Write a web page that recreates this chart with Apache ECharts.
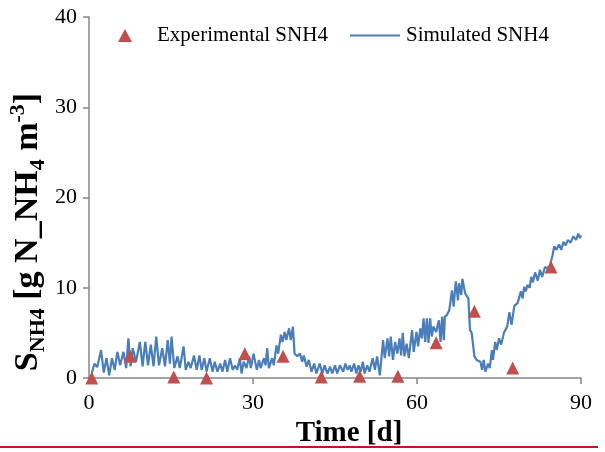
<!DOCTYPE html>
<html>
<head>
<meta charset="utf-8">
<script src="https://cdn.jsdelivr.net/npm/echarts@6/dist/echarts.min.js"></script>
<style>
  html, body { margin: 0; padding: 0; background: #ffffff; }
  #chart { width: 605px; height: 452px; }
</style>
</head>
<body>
<div id="chart"></div>
<script>
// Measured ammonium (sampling day, g N_NH4 m-3)
var experimentalDays = [0.5, 7.5, 15.5, 21.5, 28.5, 35.5, 42.5, 49.5, 56.5, 63.5, 70.5, 77.5, 84.5];
var experimentalSNH4 = [0.0, 2.4, 0.1, 0.0, 2.7, 2.4, 0.1, 0.2, 0.2, 3.9, 7.4, 1.1, 12.3];

// Model output (day, g N_NH4 m-3)
var simulatedSNH4 = [
  [0.5,0.5],[1.0,1.6],[1.5,1.2],[2.2,3.1],[2.7,0.6],[3.2,2.2],[3.7,0.3],[4.2,2.2],[4.7,0.9],[5.2,2.9],
  [5.7,1.4],[6.3,2.9],[6.8,1.1],[7.2,4.4],[7.6,1.3],[8.0,3.3],[8.6,1.8],[9.3,4.0],[9.8,1.3],[10.3,4.0],
  [10.8,1.4],[11.3,3.7],[11.8,1.3],[12.3,4.6],[12.8,1.4],[13.4,3.3],[13.9,1.3],[14.4,4.2],[14.8,1.6],[15.1,4.6],
  [15.6,1.1],[16.2,2.4],[16.6,1.1],[17.3,3.5],[17.7,0.9],[18.2,1.8],[18.6,1.1],[19.2,2.5],[19.7,0.9],[20.2,2.5],
  [20.6,0.9],[21.1,2.2],[21.5,0.7],[22.1,2.2],[22.6,0.7],[23.0,1.8],[23.5,0.7],[24.0,1.6],[24.4,0.7],[24.9,2.0],
  [25.3,0.7],[25.8,2.2],[26.3,0.9],[26.7,1.4],[27.1,0.9],[27.6,2.2],[27.9,0.5],[28.3,1.8],[28.8,1.1],[29.3,2.4],
  [29.6,1.1],[30.1,2.7],[30.7,0.9],[31.1,2.0],[31.4,1.1],[32.0,2.2],[32.3,1.4],[32.6,3.3],[32.9,1.1],[33.5,2.2],
  [33.8,1.4],[34.3,3.6],[34.6,2.7],[35.1,4.8],[35.4,4.0],[35.8,5.1],[36.1,4.2],[36.6,5.5],[36.9,4.2],[37.3,5.7],
  [37.6,2.7],[38.1,2.4],[38.6,2.7],[39.0,1.8],[39.3,2.5],[39.8,1.25],[40.2,2.0],[40.7,0.7],[41.2,1.6],[41.6,0.5],
  [42.2,1.6],[42.7,0.5],[43.1,1.4],[43.6,0.5],[44.1,1.25],[44.5,0.5],[45.0,1.4],[45.4,0.5],[45.9,1.4],[46.5,0.7],
  [46.9,1.6],[47.3,0.9],[47.7,1.4],[48.0,0.7],[48.5,1.6],[48.9,0.5],[49.3,1.4],[49.7,0.7],[50.1,1.8],[50.4,0.5],
  [50.9,1.4],[51.3,0.7],[51.9,2.2],[52.3,0.9],[52.7,2.4],[53.2,0.3],[53.8,4.2],[54.1,2.2],[54.6,4.4],[54.9,2.4],
  [55.2,4.6],[55.6,2.0],[56.0,4.0],[56.4,2.7],[56.8,4.4],[57.1,2.5],[57.4,5.0],[57.7,2.4],[58.1,3.8],[58.5,2.2],
  [59.1,5.3],[59.4,2.9],[59.9,5.1],[60.2,3.5],[60.6,5.5],[60.9,4.4],[61.2,6.6],[61.5,4.0],[61.8,6.6],[62.1,3.9],
  [62.4,6.6],[62.7,4.6],[63.0,5.7],[63.5,5.1],[64.0,6.4],[64.3,4.0],[64.6,6.8],[64.9,4.2],[65.1,6.8],[65.5,7.0],
  [65.9,7.5],[66.4,9.7],[66.7,7.9],[67.1,10.7],[67.5,8.6],[67.7,10.5],[68.1,9.2],[68.3,11.0],[68.8,9.4],[69.0,9.6],
  [69.4,8.8],[69.7,5.3],[70.0,5.0],[70.5,2.4],[70.9,2.0],[71.6,1.8],[71.9,0.9],[72.2,2.0],[72.5,0.7],[73.0,1.6],
  [73.3,1.1],[73.7,3.1],[73.9,2.0],[74.3,4.0],[74.6,3.1],[75.0,4.4],[75.4,3.7],[75.9,5.0],[76.5,5.7],[76.9,7.3],
  [77.3,5.9],[77.8,8.0],[78.4,8.3],[79.0,9.6],[79.3,8.8],[79.6,10.1],[79.9,9.6],[80.2,10.3],[80.6,10.0],[80.9,11.2],
  [81.2,10.6],[81.6,11.7],[82.1,10.8],[82.5,12.0],[82.9,11.2],[83.4,12.3],[83.8,12.2],[84.3,12.4],[84.8,13.6],[85.1,14.6],
  [85.5,14.2],[86.0,14.8],[86.4,14.2],[86.8,15.1],[87.2,14.7],[87.6,15.3],[88.1,15.0],[88.6,15.7],[89.1,15.3],[89.5,16.0],
  [89.8,15.5],[90.0,15.8]
];

var xTicks = [0, 30, 60, 90];
var yTicks = [0, 10, 20, 30, 40];

var SERIF = '"Liberation Serif", "Times New Roman", serif';
var AXIS_GREY = '#868686';
var RED = '#c0504d';
var BLUE = '#4a7ebb';

var experimentalPoints = experimentalDays.map(function (d, i) { return [d, experimentalSNH4[i]]; });

var chart = echarts.init(document.getElementById('chart'), null, { renderer: 'canvas' });

chart.setOption({
  backgroundColor: '#ffffff',
  animation: false,
  grid: { left: 89, right: 24, top: 17, bottom: 74, containLabel: false, outerBoundsMode: 'none' },
  legend: [
    {
      data: [{ name: 'Experimental SNH4', icon: 'triangle', itemStyle: { color: RED, opacity: 1 } }],
      left: 113, top: 20,
      itemWidth: 14, itemHeight: 13,
      textStyle: { fontFamily: SERIF, fontSize: 21, color: '#000000', padding: [0, 0, 0, 20] }
    },
    {
      data: [{ name: 'Simulated SNH4', icon: 'rect', itemStyle: { color: BLUE } }],
      left: 345, top: 20,
      itemWidth: 50, itemHeight: 2,
      textStyle: { fontFamily: SERIF, fontSize: 21, color: '#000000', padding: [0, 0, 0, 1] }
    }
  ],
  xAxis: {
    type: 'value',
    min: xTicks[0], max: xTicks[xTicks.length - 1], interval: 30,
    name: 'Time [d]',
    nameLocation: 'middle',
    nameGap: 41,
    nameMoveOverlap: false,
    nameTextStyle: {
      fontFamily: SERIF, fontSize: 29, fontWeight: 'bold', color: '#000000',
      padding: [0, 0, 0, 28]
    },
    axisLine: { lineStyle: { color: AXIS_GREY, width: 1.5 } },
    axisTick: { show: true, inside: false, length: 6, lineStyle: { color: AXIS_GREY, width: 1.5 } },
    axisLabel: { fontFamily: SERIF, fontSize: 22, color: '#000000', margin: 14 },
    splitLine: { show: false }
  },
  yAxis: {
    type: 'value',
    min: yTicks[0], max: yTicks[yTicks.length - 1], interval: 10,
    name: '{b|S}{s|NH4}{b| [g N_NH}{s|4}{b| m}{p|-3}{b|]}',
    nameLocation: 'middle',
    nameRotate: 90,
    nameGap: 40,
    nameMoveOverlap: false,
    nameTextStyle: {
      color: '#000000',
      padding: [0, 69, 0, 0],
      rich: {
        b: { fontFamily: SERIF, fontSize: 34, fontWeight: 'bold', lineHeight: 42, verticalAlign: 'middle' },
        s: { fontFamily: SERIF, fontSize: 22, fontWeight: 'bold', lineHeight: 22, verticalAlign: 'bottom' },
        p: { fontFamily: SERIF, fontSize: 22, fontWeight: 'bold', lineHeight: 22, verticalAlign: 'top' }
      }
    },
    axisLine: { show: true, lineStyle: { color: AXIS_GREY, width: 1.5 } },
    axisTick: { show: true, inside: false, length: 6, lineStyle: { color: AXIS_GREY, width: 1.5 } },
    axisLabel: { fontFamily: SERIF, fontSize: 22, color: '#000000', margin: 12 },
    splitLine: { show: false }
  },
  series: [
    {
      name: 'Experimental SNH4',
      type: 'scatter',
      data: experimentalPoints,
      symbol: 'triangle',
      symbolSize: 13,
      itemStyle: { color: RED, opacity: 1 },
      z: 3
    },
    {
      name: 'Simulated SNH4',
      type: 'line',
      data: simulatedSNH4,
      showSymbol: false,
      symbol: 'none',
      lineStyle: { color: BLUE, width: 2.2 },
      itemStyle: { color: BLUE },
      z: 2
    }
  ],
  graphic: [
    {
      type: 'line',
      shape: { x1: 0, y1: 447, x2: 598, y2: 447 },
      style: { stroke: '#c8102e', lineWidth: 2 }
    }
  ]
});
</script>
</body>
</html>
